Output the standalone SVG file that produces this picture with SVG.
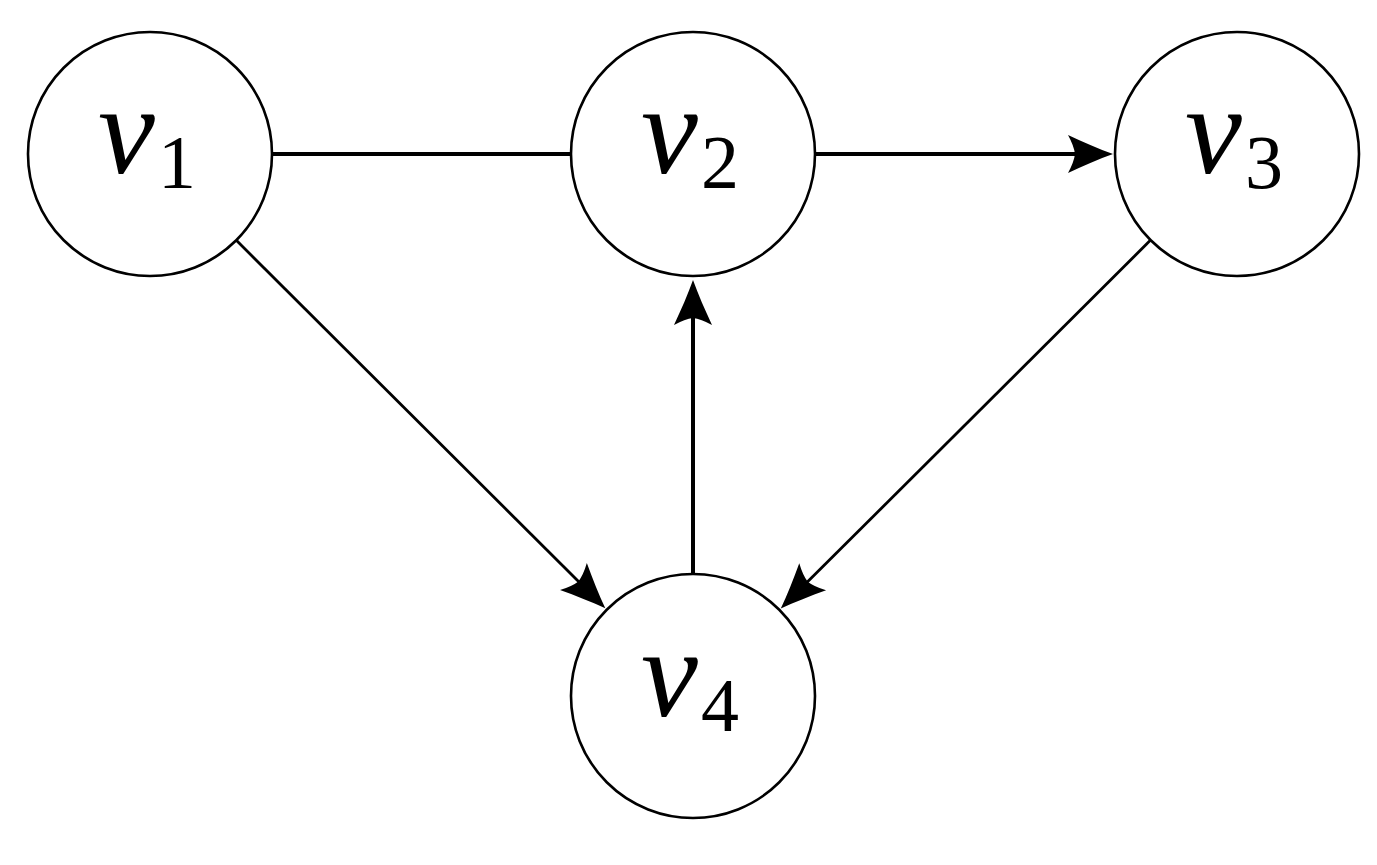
<svg xmlns="http://www.w3.org/2000/svg" width="1377" height="865" viewBox="0 0 1377 865">
<style>
.node circle{fill:#fff;stroke:#000;stroke-width:2.6}
.lbl{font-family:"Liberation Serif","DejaVu Serif",serif;font-style:italic;font-size:128px;fill:#000}
.sub{font-family:"Liberation Serif","DejaVu Serif",serif;font-style:normal;font-size:76px;fill:#000}
.thick{stroke:#000;stroke-width:4;fill:none}
.thin{stroke:#000;stroke-width:2.8;fill:none}
</style>
<defs>
<marker id="arr" viewBox="-46 -20 48 40" markerWidth="48" markerHeight="40" refX="-36" refY="0" markerUnits="userSpaceOnUse" orient="auto" overflow="visible">
<path d="M0,0 C-14,-5 -30,-12 -45,-19 Q-39,-8 -38,0 Q-39,8 -45,19 C-30,12 -14,5 0,0 Z" fill="#000"/>
</marker>
</defs>
<rect width="1377" height="865" fill="#fff"/>
<g id="connectors">
<line class="thick" x1="272" y1="154" x2="571" y2="154"/>
<line class="thick" x1="815" y1="154" x2="1077" y2="154" marker-end="url(#arr)"/>
<line class="thick" x1="693" y1="574" x2="693" y2="316" marker-end="url(#arr)"/>
<line class="thin" x1="236.3" y1="240.3" x2="579.8" y2="582.8" marker-end="url(#arr)"/>
<line class="thin" x1="1150.6" y1="240.1" x2="806.3" y2="583.1" marker-end="url(#arr)"/>
</g>
<g id="v1" class="node">
<circle cx="150" cy="154" r="122"/>
<text class="lbl" x="98" y="173">v</text><text class="sub" x="158" y="188">1</text>
</g>
<g id="v2" class="node">
<circle cx="693" cy="154" r="122"/>
<text class="lbl" x="641" y="173">v</text><text class="sub" x="701" y="188">2</text>
</g>
<g id="v3" class="node">
<circle cx="1237" cy="154" r="122"/>
<text class="lbl" x="1185" y="173">v</text><text class="sub" x="1245" y="188">3</text>
</g>
<g id="v4" class="node">
<circle cx="693" cy="696" r="122"/>
<text class="lbl" x="641" y="716">v</text><text class="sub" x="701" y="731">4</text>
</g>
</svg>
